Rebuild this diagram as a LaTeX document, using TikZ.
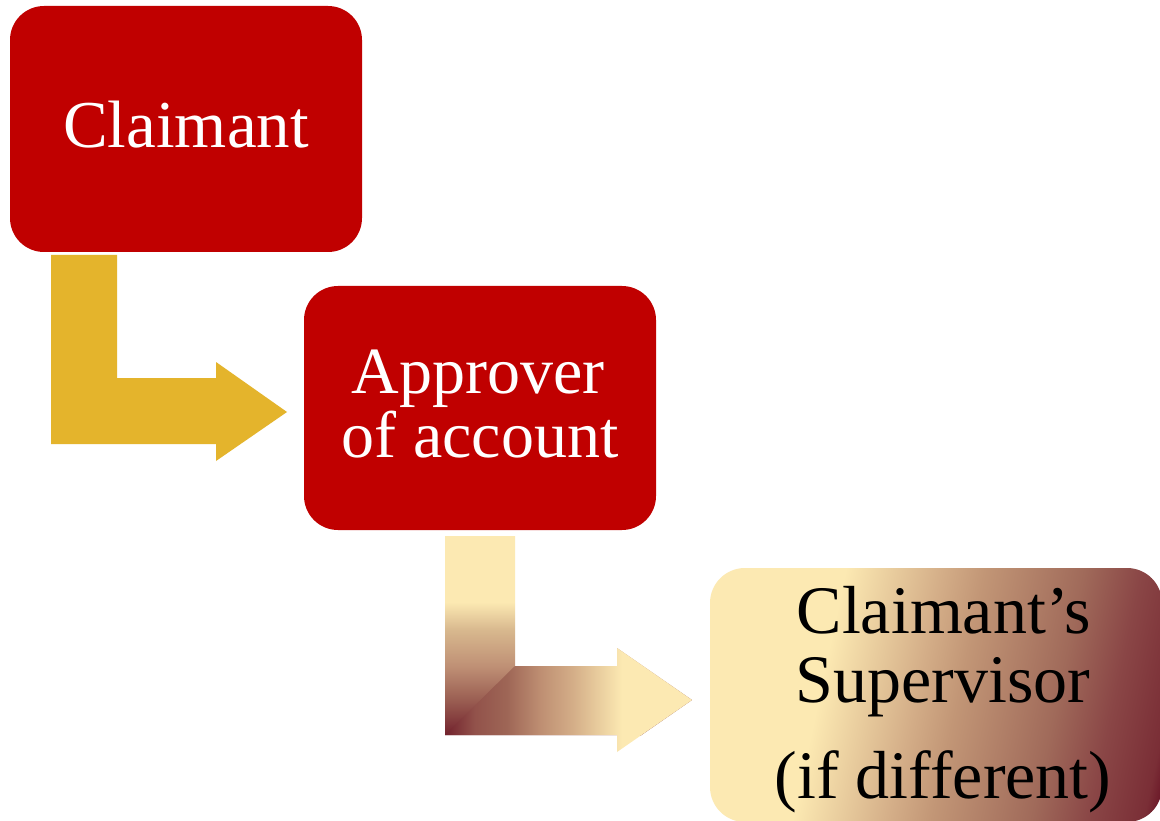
\documentclass[tikz,border=0pt]{standalone}
\usepackage{fontspec}
\setmainfont{Liberation Serif}
\usetikzlibrary{calc}
\definecolor{boxred}{HTML}{C00000}
\definecolor{gold}{HTML}{E4B42C}
\definecolor{cream}{HTML}{FCE9B2}
\definecolor{ga1}{HTML}{72222D}
\definecolor{ga2}{HTML}{9A5E52}
\definecolor{ga3}{HTML}{BF9075}
\definecolor{ga4}{HTML}{D8B88E}
\definecolor{gh2}{HTML}{9E6656}
\definecolor{gh3}{HTML}{BE8E72}
\definecolor{gh4}{HTML}{D4AE88}
\definecolor{gb1}{HTML}{D4AE88}
\definecolor{gb2}{HTML}{C29676}
\definecolor{gb3}{HTML}{A06A5A}
\definecolor{gb4}{HTML}{8A4646}
\definecolor{gb5}{HTML}{7A2E36}
\definecolor{gb6}{HTML}{6B1828}
\pgfdeclareverticalshading{arrowvert}{100bp}{color(0bp)=(ga1); color(25bp)=(ga1); color(33.8bp)=(ga2); color(42.3bp)=(ga3); color(51.4bp)=(ga4); color(58.4bp)=(cream); color(100bp)=(cream)}
\pgfdeclarehorizontalshading{arrowhoriz}{100bp}{color(0bp)=(ga1); color(25bp)=(ga1); color(31bp)=(ga2!80!ga1); color(37.55bp)=(gh2); color(44.23bp)=(gh3); color(50.9bp)=(gh4); color(60.83bp)=(cream); color(100bp)=(cream)}
\pgfdeclarehorizontalshading{boxgrad}{100bp}{color(0bp)=(cream); color(40.4bp)=(cream); color(48.3bp)=(gb1); color(51.8bp)=(gb2); color(60bp)=(gb3); color(64.7bp)=(gb4); color(69.2bp)=(gb5); color(70.25bp)=(gb6); color(100bp)=(gb6)}
\tikzset{
  redbox/.style={rectangle, rounded corners=34pt, fill=boxred, draw=none, inner sep=0pt},
  gradbox/.style={rectangle, rounded corners=35pt, draw=none, inner sep=0pt},
  lbl/.style={anchor=base, inner sep=0pt, font=\fontsize{67}{67}\selectfont},
}
\begin{document}
\begin{tikzpicture}[x=1pt,y=-1pt]
\useasboundingbox (0,0) rectangle (1160,821);
\clip (0,0) rectangle (1160,821);
\fill[white] (0,0) rectangle (1160,821);
% boxes
\node[redbox, minimum width=352pt, minimum height=246pt] (box1) at (186,129) {};
\node[redbox, minimum width=352pt, minimum height=244pt] (box2) at (480,408) {};
\node[gradbox, minimum width=452pt, minimum height=254pt,
  path picture={\shade[shading=boxgrad, shading angle=-12]
    ($(path picture bounding box.center)+(-300,-300)$) rectangle ($(path picture bounding box.center)+(300,300)$);}]
  (box3) at (936,695) {};
% arrow 1
\fill[gold] (51,255) -- (117,255) -- (117,378) -- (216,378) -- (216,362) -- (287,412)
  -- (216,461) -- (216,444) -- (51,444) -- cycle;
% arrow 2: vertical part (under the whole arrow)
\begin{scope}
\clip (445,536) -- (515,536) -- (515,666) -- (617,666) -- (617,648) -- (692,700)
  -- (617,752) -- (617,735) -- (445,735) -- cycle;
\shade[shading=arrowvert] (445,536) rectangle (692,735);
\end{scope}
% arrow 2: horizontal part
\begin{scope}
\clip (445,735) -- (515,666) -- (617,666) -- (617,648) -- (692,700)
  -- (617,752) -- (617,735) -- cycle;
\shade[shading=arrowhoriz] (445,648) rectangle (692,752);
\end{scope}
% labels
\node[lbl, text=white] (t1) at (186,148) {Claimant};
\node[lbl, text=white, font=\fontsize{66}{66}\selectfont] (t2a) at (478,393) {Approver};
\node[lbl, text=white, font=\fontsize{66}{66}\selectfont] (t2b) at (480,457) {of account};
\node[lbl, text=black, font=\fontsize{68}{68}\selectfont] (t3a) at (944,633) {Claimant’s};
\node[lbl, text=black, font=\fontsize{68}{68}\selectfont] (t3b) at (943,702) {Supervisor};
\node[lbl, text=black, font=\fontsize{68}{68}\selectfont] (t3c) at (943,798) {(if different)};
\end{tikzpicture}
\end{document}
